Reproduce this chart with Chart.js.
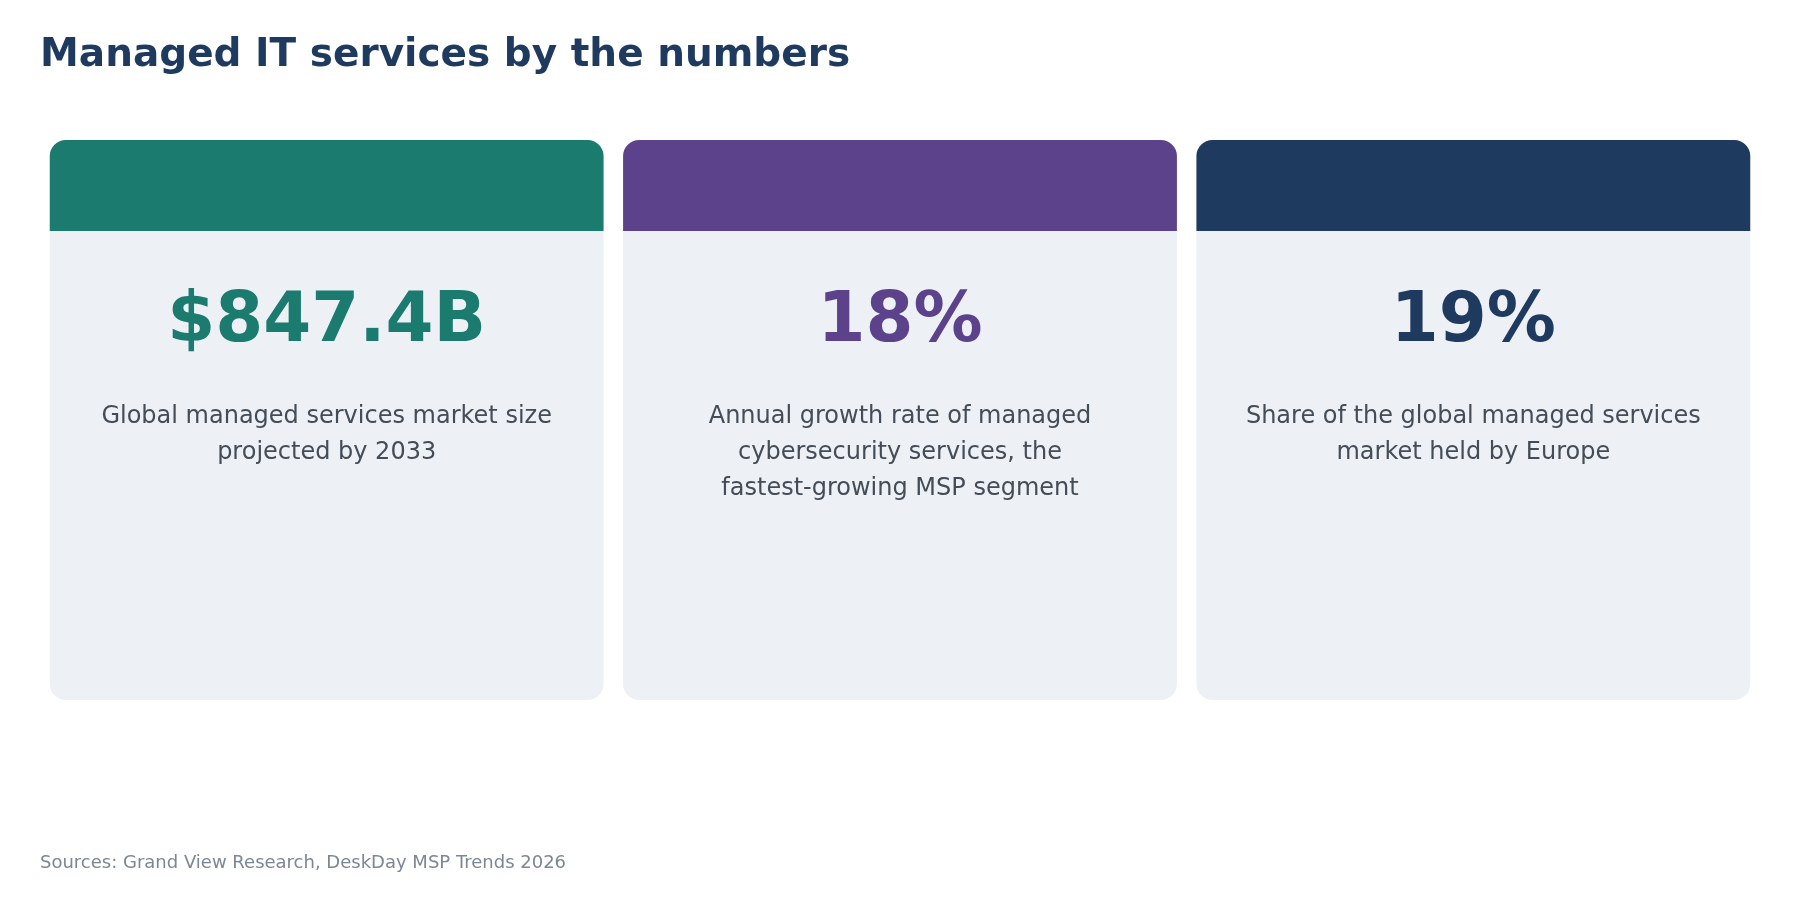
<!DOCTYPE html>
<html>
<head>
<meta charset="utf-8">
<script src="https://cdn.jsdelivr.net/npm/chart.js@4/dist/chart.umd.min.js"></script>
<style>
  body { margin: 0; background: #fff; font-family: "DejaVu Sans", sans-serif; }
  #wrap { position: relative; width: 1800px; height: 900px; }
  #title { position: absolute; left: 40px; top: 30px; font-size: 39px; font-weight: bold; color: #1f3a5f; }
  #source { position: absolute; left: 40px; top: 851px; font-size: 18px; color: #7b8794; }
  canvas { position: absolute; left: 0; top: 0; }
</style>
</head>
<body>
<div id="wrap">
  <canvas id="c" width="1800" height="900"></canvas>
  <div id="title">Managed IT services by the numbers</div>
  <div id="source">Sources: Grand View Research, DeskDay MSP Trends 2026</div>
</div>
<script>
const cards = ['market', 'cyber', 'europe'];
const values = ['$847.4B', '18%', '19%'];
const descriptions = [
  ['Global managed services market size', 'projected by 2033'],
  ['Annual growth rate of managed', 'cybersecurity services, the', 'fastest-growing MSP segment'],
  ['Share of the global managed services', 'market held by Europe']
];
const accents = ['#1b7b6e', '#5b428b', '#1f3a5f'];
const headerRange = [83.75, 100];
const bodyRange = [0, 83.75];

const cardText = {
  id: 'cardText',
  afterDatasetsDraw(chart) {
    const ctx = chart.ctx;
    const bars = chart.getDatasetMeta(0).data;
    const y = chart.scales.y;
    const top = y.getPixelForValue(headerRange[0]);
    ctx.save();
    ctx.textAlign = 'center';
    ctx.textBaseline = 'middle';
    bars.forEach((bar, i) => {
      ctx.fillStyle = accents[i];
      ctx.font = 'bold 69px "DejaVu Sans"';
      ctx.fillText(values[i], bar.x, top + 92);
      ctx.fillStyle = '#444c56';
      ctx.font = '24px "DejaVu Sans"';
      descriptions[i].forEach((line, j) => {
        ctx.fillText(line, bar.x, top + 186 + j * 36);
      });
    });
    ctx.restore();
  }
};

new Chart(document.getElementById('c'), {
  type: 'bar',
  data: {
    labels: cards,
    datasets: [
      {
        data: cards.map(() => headerRange),
        backgroundColor: accents,
        borderRadius: { topLeft: 16, topRight: 16, bottomLeft: 0, bottomRight: 0 },
        borderSkipped: false
      },
      {
        data: cards.map(() => bodyRange),
        backgroundColor: '#edf1f6',
        borderRadius: { topLeft: 0, topRight: 0, bottomLeft: 16, bottomRight: 16 },
        borderSkipped: false
      }
    ]
  },
  options: {
    responsive: false,
    animation: false,
    grouped: false,
    barPercentage: 1,
    categoryPercentage: 0.966,
    layout: { padding: { left: 40, right: 40, top: 140, bottom: 200 } },
    plugins: { legend: { display: false }, tooltip: { enabled: false } },
    scales: {
      x: { display: false },
      y: { display: false, min: 0, max: 100 }
    }
  },
  plugins: [cardText]
});
</script>
</body>
</html>
